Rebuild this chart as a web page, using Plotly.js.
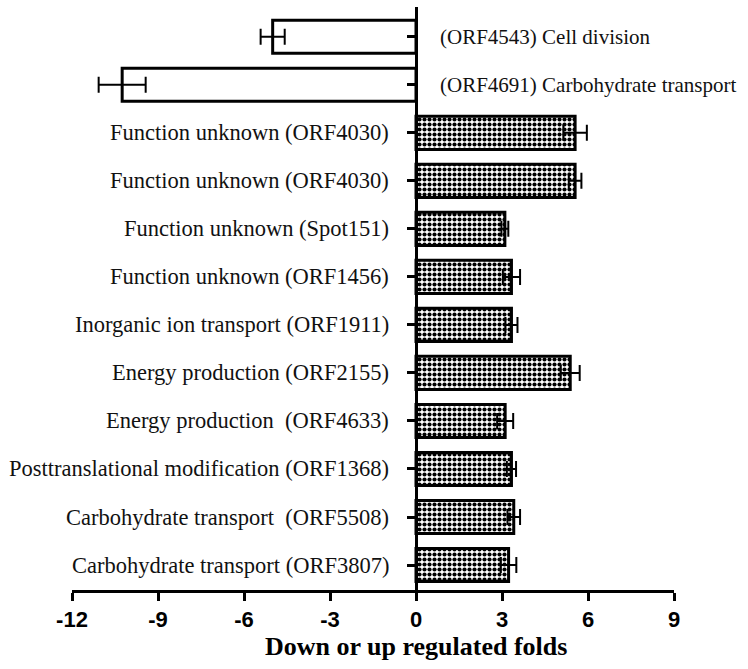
<!DOCTYPE html>
<html>
<head>
<meta charset="utf-8">
<script src="https://cdn.plot.ly/plotly-3.0.1.min.js"></script>
<style>html,body{margin:0;padding:0;background:#fff;}#chart{width:748px;height:669px;}</style>
</head>
<body>
<div id="chart"></div>
<script>
// Data (top to bottom)
const categories = [
  "(ORF4543) Cell division",
  "(ORF4691) Carbohydrate transport",
  "Function unknown (ORF4030)",
  "Function unknown (ORF4030)",
  "Function unknown (Spot151)",
  "Function unknown (ORF1456)",
  "Inorganic ion transport (ORF1911)",
  "Energy production (ORF2155)",
  "Energy production  (ORF4633)",
  "Posttranslational modification (ORF1368)",
  "Carbohydrate transport  (ORF5508)",
  "Carbohydrate transport (ORF3807)"
];
const folds = [-5.0, -10.25, 5.55, 5.55, 3.1, 3.33, 3.33, 5.38, 3.11, 3.33, 3.41, 3.23];
const errors = [0.42, 0.82, 0.41, 0.22, 0.12, 0.3, 0.21, 0.33, 0.28, 0.16, 0.22, 0.27];
const xTicks = [-12, -9, -6, -3, 0, 3, 6, 9];
const xTitle = "Down or up regulated folds";

const idx = categories.map((_, i) => i);
const patternShapes = folds.map(v => v < 0 ? '' : '.');

const trace = {
  type: 'bar',
  orientation: 'h',
  x: folds,
  y: idx,
  width: 0.69,
  marker: {
    color: '#ffffff',
    line: {color: '#000000', width: 3},
    pattern: {shape: patternShapes, fgcolor: '#000000', bgcolor: '#ffffff', size: 5, solidity: 0.55}
  },
  error_x: {type: 'data', array: errors, visible: true, color: '#000000', thickness: 2, width: 8},
  hoverinfo: 'none'
};

const annotations = categories.map((c, i) => ({
  x: 0, y: i, xref: 'x', yref: 'y',
  text: c,
  showarrow: false,
  xanchor: folds[i] < 0 ? 'left' : 'right',
  yanchor: 'middle',
  xshift: folds[i] < 0 ? 22 : -25,
  font: {family: 'Liberation Serif, Times New Roman, serif', size: folds[i] < 0 ? 21 : 22.5, color: '#111111'}
}));
annotations.push({
  x: 0, xref: 'x', y: 0, yref: 'paper', yshift: -56,
  xanchor: 'center', yanchor: 'middle', showarrow: false,
  text: '<b>' + xTitle + '</b>',
  font: {family: 'Liberation Serif, Times New Roman, serif', size: 26, color: '#000000'}
});

const layout = {
  width: 748, height: 669,
  margin: {l: 72, r: 74, t: 7, b: 79},
  paper_bgcolor: '#ffffff', plot_bgcolor: '#ffffff',
  showlegend: false,
  xaxis: {
    range: [-12, 9],
    tickvals: xTicks,
    ticktext: xTicks.map(String),
    showgrid: false, zeroline: false,
    showline: true, linecolor: '#000000', linewidth: 3,
    ticks: 'outside', ticklen: 8, tickwidth: 3, tickcolor: '#000000',
    tickfont: {family: 'Liberation Sans Narrow, Arial Narrow, Liberation Sans, Arial, sans-serif', size: 22, color: '#000000', weight: 'bold'}
  },
  yaxis: {
    range: [11.52, -0.62],
    anchor: 'free',
    position: 12/21,
    tickvals: idx,
    showticklabels: false,
    showgrid: false, zeroline: false,
    showline: true, linecolor: '#000000', linewidth: 3,
    ticks: 'outside', ticklen: 8, tickwidth: 3, tickcolor: '#000000'
  },
  annotations: annotations
};

Plotly.newPlot('chart', [trace], layout, {displayModeBar: false, staticPlot: true});
</script>
</body>
</html>
